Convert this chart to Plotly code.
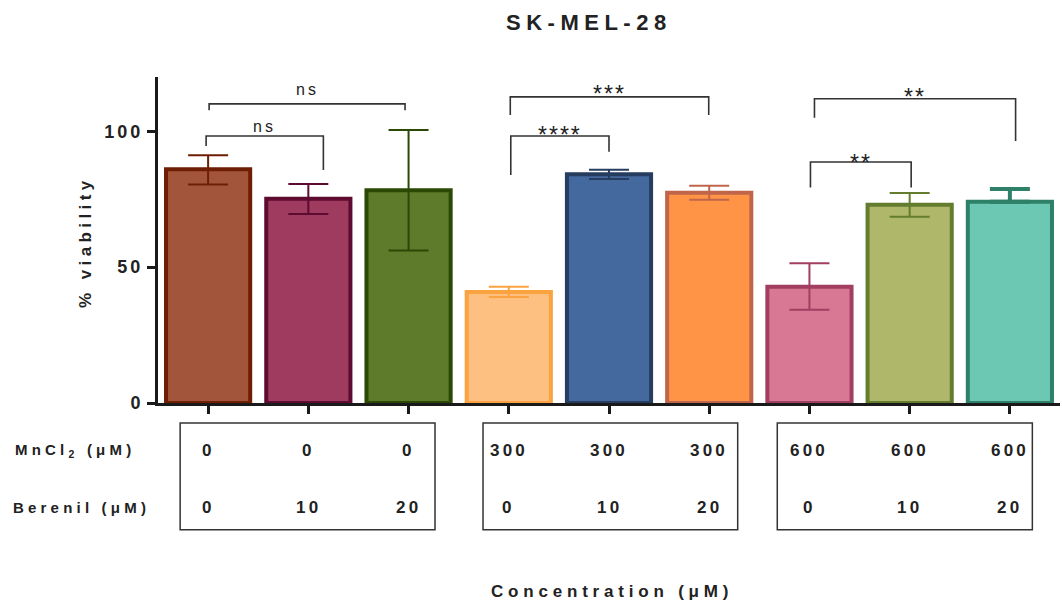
import plotly.graph_objects as go

# --- data -------------------------------------------------------------
viability = [86.0, 75.2, 78.3, 40.9, 84.2, 77.4, 42.8, 73.0, 74.1]
err_plus = [5.2, 5.4, 22.2, 1.9, 1.7, 2.6, 8.6, 4.3, 4.7]
err_minus = [5.6, 5.6, 22.2, 1.9, 1.7, 2.6, 8.5, 4.4, 0.0]
mncl2 = ["0", "0", "0", "300", "300", "300", "600", "600", "600"]
berenil = ["0", "10", "20", "0", "10", "20", "0", "10", "20"]
y_ticks = [0, 50, 100]

# significance comparisons: (left bar, right bar, label)
comparisons = [(0, 1, "ns"), (0, 2, "ns"), (3, 4, "****"), (3, 5, "***"), (6, 7, "**"), (6, 8, "**")]

# --- styling ----------------------------------------------------------
fills = ["#A3553B", "#9E3B5F", "#5E7A2B", "#FDC081", "#43699E", "#FF9447", "#D87895", "#AFB76B", "#6CC8B2"]
edges = ["#6E1F03", "#5E0B31", "#2B4805", "#FBA241", "#263D60", "#C0654A", "#A23E62", "#637C2E", "#2E8068"]
err_width = [2, 2, 2, 2, 2, 2, 2, 2, 4]

# bracket geometry per comparison: x0, x1, bar y, left drop, right drop, label y
brackets = [
    (-0.02, 1.15, 98.3, 94.6, 85.8, 101.6),
    (0.01, 1.965, 110.1, 107.8, 107.8, 115.5),
    (3.02, 4.0, 98.3, 83.9, 92.5, 100.8),
    (3.015, 4.995, 112.7, 106.0, 106.0, 116.0),
    (6.01, 7.015, 88.7, 79.3, 79.3, 90.5),
    (6.05, 8.057, 112.0, 105.0, 96.4, 114.7),
]

FONT = "Liberation Sans, Arial, sans-serif"
INK = "#222222"


def spaced(text, px):
    return f'<span style="letter-spacing:{px}px">{text}</span>'


fig = go.Figure()

for i, v in enumerate(viability):
    fig.add_trace(go.Bar(
        x=[i], y=[v], width=0.84,
        marker=dict(color=fills[i], line=dict(color=edges[i], width=4)),
        error_y=dict(type="data", symmetric=False, array=[err_plus[i]], arrayminus=[err_minus[i]],
                     color=edges[i], thickness=err_width[i], width=20),
        showlegend=False, hoverinfo="skip",
    ))

shapes = []
annotations = []


def note(**kw):
    kw.setdefault("showarrow", False)
    kw.setdefault("xanchor", "center")
    kw.setdefault("yanchor", "middle")
    annotations.append(kw)


# significance brackets
for (a, b, label), (x0, x1, yb, yl, yr, ylab) in zip(comparisons, brackets):
    shapes.append(dict(type="path", xref="x", yref="y",
                       path=f"M {x0},{yl} L {x0},{yb} L {x1},{yb} L {x1},{yr}",
                       line=dict(color="#333333", width=1.6)))
    star = label.startswith("*")
    note(x=(x0 + x1) / 2, y=ylab, xref="x", yref="y",
         text=spaced(label, 2 if star else 3),
         yshift=-6 if star else 0,
         font=dict(family=FONT, size=23 if star else 16, color=INK))

# condition table boxes under the axis
PLOT_H = 326.0


def py(pixel_below_axis):
    return -pixel_below_axis / PLOT_H


for x0, x1 in [(-0.279, 2.264), (2.743, 5.284), (5.679, 8.224)]:
    shapes.append(dict(type="rect", xref="x", yref="paper", x0=x0, x1=x1, y0=py(20), y1=py(126.7),
                       line=dict(color="#333333", width=1.5)))

bold_num = dict(family=FONT, size=17, color=INK, weight="bold")
for i in range(len(viability)):
    note(x=i, y=py(47.5), xref="x", yref="paper", text=spaced(mncl2[i], 3.2), font=bold_num)
    note(x=i, y=py(104.5), xref="x", yref="paper", text=spaced(berenil[i], 3.2), font=bold_num)

row_font = dict(family=FONT, size=15, color=INK, weight="bold")
note(x=-0.1608, y=py(47.5), xref="paper", yref="paper", xanchor="left",
     text=spaced("MnCl<sub>2</sub> (μM)", 4.2), font=row_font)
note(x=-0.163, y=py(104.5), xref="paper", yref="paper", xanchor="left",
     text=spaced("Berenil (μM)", 4.2), font=row_font)

# titles
note(x=0.478, y=py(-381), xref="paper", yref="paper",
     text=spaced("SK-MEL-28", 5.5), font=dict(family=FONT, size=22, color=INK, weight="bold"))
note(x=0.503, y=py(188.4), xref="paper", yref="paper",
     text=spaced("Concentration (μM)", 4.8), font=dict(family=FONT, size=17, color=INK, weight="bold"))
note(x=-0.0798, y=0.494, xref="paper", yref="paper", textangle=-90,
     text=spaced("% viability", 4.4), font=dict(family=FONT, size=17, color=INK, weight="bold"))

fig.update_layout(
    width=1062, height=608,
    margin=dict(l=158, r=2, t=77, b=205),
    paper_bgcolor="white", plot_bgcolor="white",
    barmode="overlay",
    shapes=shapes, annotations=annotations,
    xaxis=dict(range=[-0.5, 8.5], tickvals=list(range(9)), showticklabels=False,
               ticks="outside", ticklen=8, tickwidth=3, tickcolor="#1a1a1a",
               showline=True, linecolor="#1a1a1a", linewidth=3, showgrid=False, zeroline=False),
    yaxis=dict(range=[0, 120], tickvals=y_ticks, ticktext=[spaced(str(t), 3) for t in y_ticks],
               ticks="outside", ticklen=8, tickwidth=3, tickcolor="#1a1a1a",
               tickfont=dict(family=FONT, size=18, color=INK, weight="bold"),
               showline=True, linecolor="#1a1a1a", linewidth=3, showgrid=False, zeroline=False),
)

fig.write_html("out.html")
